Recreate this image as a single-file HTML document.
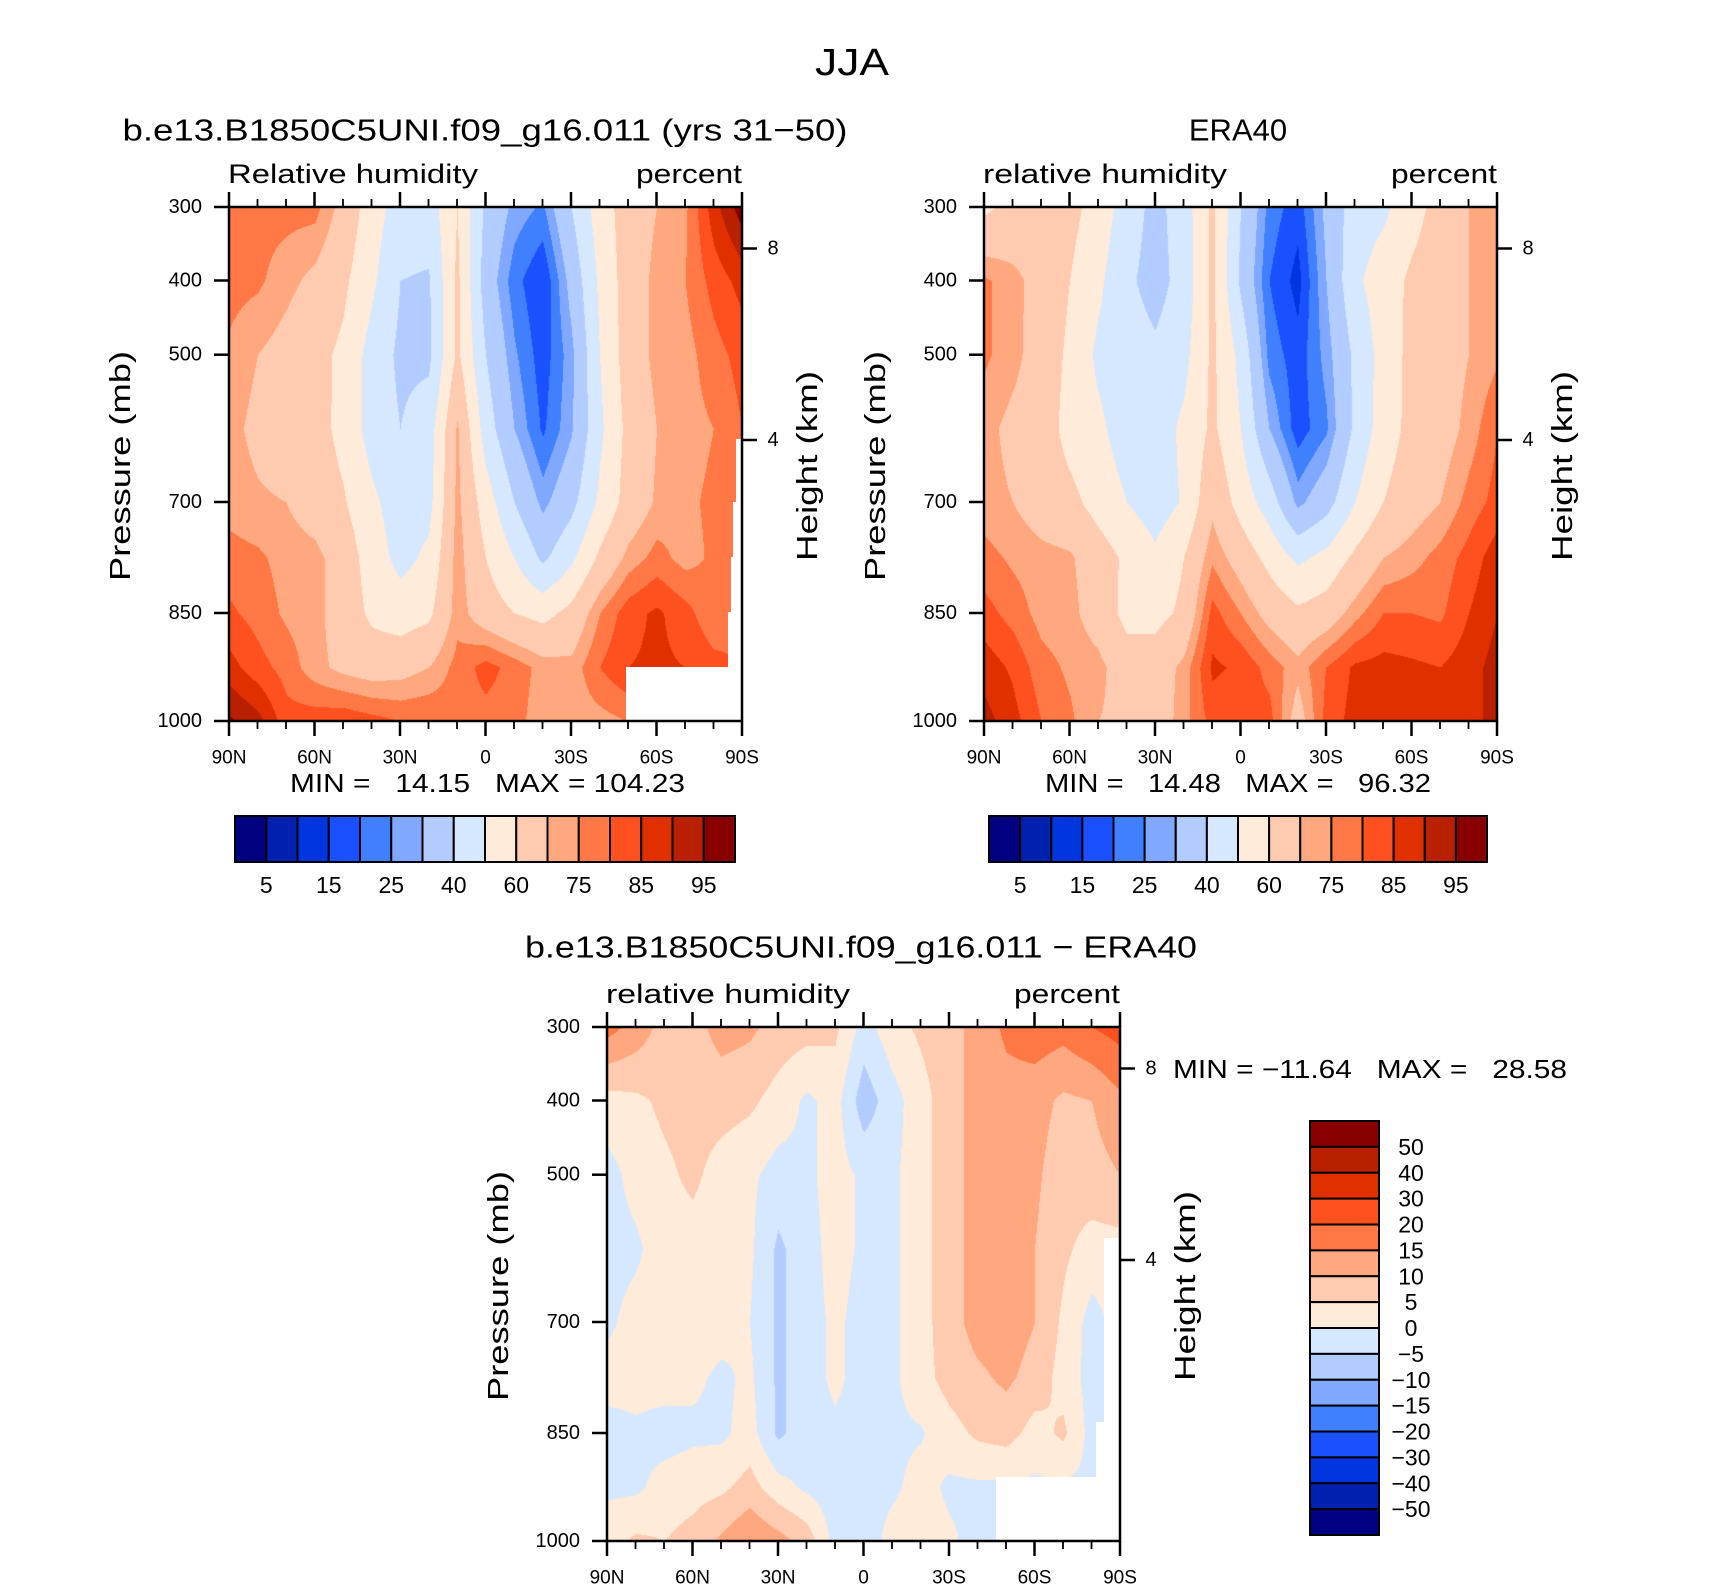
<!DOCTYPE html>
<html><head><meta charset="utf-8"><style>
html,body{margin:0;padding:0;background:#fff;}
#wrap{position:relative;width:1710px;height:1590px;overflow:hidden;background:#fff;}
canvas{position:absolute;}
svg{position:absolute;left:0;top:0;}
text{font-family:"Liberation Sans",sans-serif;fill:#000;white-space:pre;}
</style></head><body>
<div id="wrap">
<canvas id="c0"></canvas>
<canvas id="c1"></canvas>
<canvas id="c2"></canvas>
<svg id="ov" width="1710" height="1590"></svg>
</div>
<script>
// ---- data ----
const lats = [90,80,70,60,50,40,30,20,10,0,-10,-20,-30,-40,-50,-60,-70,-80,-90];
const levels = [300,400,500,600,700,775,850,925,1000];
const pTicks = [300,400,500,700,850,1000];
const rhBounds = [5,10,15,20,25,30,40,50,60,70,75,80,85,90,95];
const rhLabels = ["5","15","25","40","60","75","85","95"];
const diffBounds = [-50,-40,-30,-20,-15,-10,-5,0,5,10,15,20,30,40,50];
const diffLabels = ["50","40","30","20","15","10","5","0","\u22125","\u221210","\u221215","\u221220","\u221230","\u221240","\u221250"];
const palette = ["#000080","#0020B0","#0035E0","#1A50FF","#4080FF","#80A8FF","#B3CCFF","#D5E8FF","#FFEBD9","#FFCBB0","#FFA880","#FF7845","#FF5020","#E03000","#B82000","#880000"];
const modelRH = [
[77,77,77,77,67,55,45,45,60,38,28,24,40,55,65,70,74,88,98],
[77,76,72,68,62,52,40,39,62,35,22,15,33,52,65,72,75,82,87],
[74,70,67,63,58,46,38,38,62,40,26,17,28,50,65,72,73,78,82],
[72,68,65,64,57,46,40,45,71,45,30,19,29,48,63,70,73,75,80],
[73,71,70,66,61,52,45,47,72,55,40,28,37,52,64,71,74,76,78],
[77,76,73,72,66,55,47,52,73,60,50,38,48,62,72,77,73,76,77],
[81,78,74,72,66,58,55,58,73,65,60,57,63,75,83,86,82,76,78],
[87,82,78,72,68,66,67,70,77,82,78,73,72,80,85,86,85,82,80],
[96,92,82,83,84,82,80,80,78,78,77,72,72,73,75,80,80,80,80]];
const eraRH = [
[58,63,65,63,56,45,37,45,62,40,23,17,32,45,48,56,64,70,72],
[76,72,67,60,52,42,36,44,62,38,20,13,30,48,55,62,66,70,73],
[76,72,66,58,48,45,42,47,62,47,23,17,27,42,54,63,66,70,74],
[72,68,66,56,52,45,45,52,62,50,30,17,24,42,55,63,66,72,80],
[72,70,66,63,56,50,45,51,68,56,45,28,36,50,60,66,70,77,82],
[77,74,72,71,65,58,52,60,74,66,57,48,53,62,70,73,77,82,88],
[82,78,73,72,66,57,57,62,82,75,67,62,65,73,80,80,79,85,90],
[88,84,77,74,72,65,65,72,86,84,78,72,80,86,87,86,85,88,92],
[92,87,80,76,70,68,65,73,82,82,82,66,82,87,87,87,85,87,93]];
const diffRH = [
[17,13,8,8,12,11,8,7,6,-2,3,6,8,12,16,18,17,20,22],
[3,4,6,7,7,6,3,-1,2,-8,-2,3,8,12,13,12,9,10,14],
[-2,2,4,6,3,1,-2,-1,2,-1,-1,3,8,12,13,11,7,8,10],
[-2,-1,3,3,2,1,-6,-2,2,-1,-1,3,8,12,13,10,6,3,3],
[-1,2,3,3,2,0,-6,-2,1,-2,-1,3,8,12,13,10,4,-2,2],
[2,2,2,1,-1,1,-6,-2,1,-2,-1,3,7,9,11,8,3,-2,0],
[-2,-1,-2,-1,-1,2,-6,-2,-1,-2,-1,-0.5,3,6,7,3,6,-2,-1],
[-1,-1,2,3,4,7,2,-1,-3,-2,-1,2,-1,-1,-1,-1,-1,-1,-1],
[3,6,5,7,11,15,12,8,-2,-3,2,3,1,-2,-2,-2,-2,-2,-2]];
// ---- layout ----
const P=[{l:229,t:207,w:513,h:514},{l:984,t:207,w:513,h:514},{l:607,t:1027,w:513,h:514}];
const pOff=[0,73.5,147.7,295,406,514];
function yFrac(p){
  for(let i=0;i<pTicks.length-1;i++){ if(p<=pTicks[i+1]){const f=(p-pTicks[i])/(pTicks[i+1]-pTicks[i]);return (pOff[i]+f*(pOff[i+1]-pOff[i]))/514;} }
  return 1;}
function xOf(pn,lat){return pn.l+(90-lat)/180*pn.w;}
function yOf(pn,p){return pn.t+yFrac(p)*pn.h;}
function colorFor(v,b){let k=0;while(k<b.length&&v>=b[k])k++;return palette[k];}
function hexRGB(h){return [parseInt(h.slice(1,3),16),parseInt(h.slice(3,5),16),parseInt(h.slice(5,7),16)];}
function drawField(id,pn,grid,bounds){
  const c=document.getElementById(id);c.width=pn.w;c.height=pn.h;c.style.left=pn.l+'px';c.style.top=pn.t+'px';
  const ctx=c.getContext('2d');const img=ctx.createImageData(pn.w,pn.h);
  const rowY=levels.map(p=>yFrac(p)*pn.h);
  const colX=lats.map(la=>(90-la)/180*pn.w);
  for(let y=0;y<pn.h;y++){
    let r=0;while(r<rowY.length-2&&y>rowY[r+1])r++;
    const fy=Math.min(1,Math.max(0,(y-rowY[r])/(rowY[r+1]-rowY[r])));
    for(let x=0;x<pn.w;x++){
      let cI=0;while(cI<colX.length-2&&x>colX[cI+1])cI++;
      const fx=Math.min(1,Math.max(0,(x-colX[cI])/(colX[cI+1]-colX[cI])));
      const v=(grid[r][cI]*(1-fx)+grid[r][cI+1]*fx)*(1-fy)+(grid[r+1][cI]*(1-fx)+grid[r+1][cI+1]*fx)*fy;
      const rgb=hexRGB(colorFor(v,bounds));const o=(y*pn.w+x)*4;
      img.data[o]=rgb[0];img.data[o+1]=rgb[1];img.data[o+2]=rgb[2];img.data[o+3]=255;}}
  ctx.putImageData(img,0,0);}
drawField('c0',P[0],modelRH,rhBounds);
drawField('c1',P[1],eraRH,rhBounds);
drawField('c2',P[2],diffRH,diffBounds);
// ---- svg overlay ----
const NS='http://www.w3.org/2000/svg';const svg=document.getElementById('ov');
function el(tag,attrs,parent){const e=document.createElementNS(NS,tag);for(const k in attrs)e.setAttribute(k,attrs[k]);(parent||svg).appendChild(e);return e;}
function txt(s,x,y,size,anchor,len,parent,rot){const e=el('text',{x:x,y:y,'font-size':size,'text-anchor':anchor||'middle','dominant-baseline':'central'},parent);
  if(len){e.setAttribute('textLength',len);e.setAttribute('lengthAdjust','spacingAndGlyphs');}
  if(rot)e.setAttribute('transform','rotate(-90 '+x+' '+y+')');
  e.style.whiteSpace='pre';e.textContent=s;return e;}
const masks=[[0,[[397,460,116,54],[507,232,6,282],[504,295,9,219],[502,350,11,164],[499,405,14,109]]],[2,[[389,450,124,64],[497,211,16,303],[489,395,24,119]]]];
masks.forEach(m=>{const pn=P[m[0]];m[1].forEach(r=>{const e=el('rect',{x:pn.l+r[0],y:pn.t+r[1],width:r[2],height:r[3],fill:'#fff'});

});});
const t0=txt('JJA',852,63,38,'middle',74);


const titles=[['b.e13.B1850C5UNI.f09_g16.011 (yrs 31\u221250)',485,130,725,'Relative humidity',250],['ERA40',1238,130,0,'relative humidity',244],['b.e13.B1850C5UNI.f09_g16.011 \u2212 ERA40',861,947,672,'relative humidity',244]];
const heightOff=[[8,41.5],[4,233]];
P.forEach((pn,i)=>{
  const g=el('g',{});
  
  
  const tt=txt(titles[i][0],titles[i][1],titles[i][2],31,'middle',titles[i][3]||null,g);
  
  
  const st=txt(titles[i][4],pn.l-1,pn.t-33,27,'start',titles[i][5],g);
  
  
  const un=txt('percent',pn.l+pn.w,pn.t-33,27,'end',106,g);
  
  
  el('rect',{x:pn.l,y:pn.t,width:pn.w,height:pn.h,fill:'none',stroke:'#000','stroke-width':2.5},g);
  for(let la=90;la>=-90;la-=10){const x=xOf(pn,la);const maj=(la%30===0);const L=maj?15:8;
    el('line',{x1:x,y1:pn.t,x2:x,y2:pn.t-L,stroke:'#000','stroke-width':maj?2.5:1.8},g);
    el('line',{x1:x,y1:pn.t+pn.h,x2:x,y2:pn.t+pn.h+L,stroke:'#000','stroke-width':maj?2.5:1.8},g);
    if(maj){const lab=la===0?'0':(Math.abs(la)+(la>0?'N':'S'));const e=txt(lab,x,pn.t+pn.h+37,19,'middle',null,g);
      
      }}
  pTicks.forEach(p=>{const y=yOf(pn,p);el('line',{x1:pn.l-15,y1:y,x2:pn.l,y2:y,stroke:'#000','stroke-width':2.5},g);
    const e=txt(String(p),pn.l-27,y,20,'end',null,g);
    
    });
  heightOff.forEach(h=>{const y=pn.t+h[1];el('line',{x1:pn.l+pn.w,y1:y,x2:pn.l+pn.w+15,y2:y,stroke:'#000','stroke-width':2.5},g);
    const e=txt(String(h[0]),pn.l+pn.w+31,y,20,'middle',null,g);
    
    });
  const ya=txt('Pressure (mb)',pn.l-108,pn.t+259,29,'middle',230,g,true);
  
  
  const ha=txt('Height (km)',pn.l+pn.w+66,pn.t+259,29,'middle',190,g,true);
  
  
});
const mm=[['MIN =   14.15   MAX = 104.23',290,783,395],['MIN =   14.48   MAX =   96.32',1045,783,386],['MIN = \u221211.64   MAX =   28.58',1173,1069,394]];
mm.forEach(m=>{const e=txt(m[0],m[1],m[2],26,'start',m[3]);

});
[[235,735],[989,1487]].forEach(cb=>{const g=el('g',{});
  
  
  const bw=(cb[1]-cb[0])/palette.length;
  palette.forEach((c,k)=>{el('rect',{x:cb[0]+k*bw,y:816,width:bw,height:46,fill:c,stroke:'#000','stroke-width':2},g);});
  rhLabels.forEach((s,k)=>{const e=txt(s,cb[0]+(2*k+1)*bw,885,23,'middle',null,g);
    
    });});
(function(){const g=el('g',{});
  
  
  const x0=1310,w=69,y0=1121,y1=1535,bh=(y1-y0)/palette.length;
  palette.slice().reverse().forEach((c,k)=>{el('rect',{x:x0,y:y0+k*bh,width:w,height:bh,fill:c,stroke:'#000','stroke-width':2},g);});
  diffLabels.forEach((s,k)=>{const e=txt(s,1411,y0+(k+1)*bh,23,'middle',null,g);
    
    });})();
</script>
</body></html>
